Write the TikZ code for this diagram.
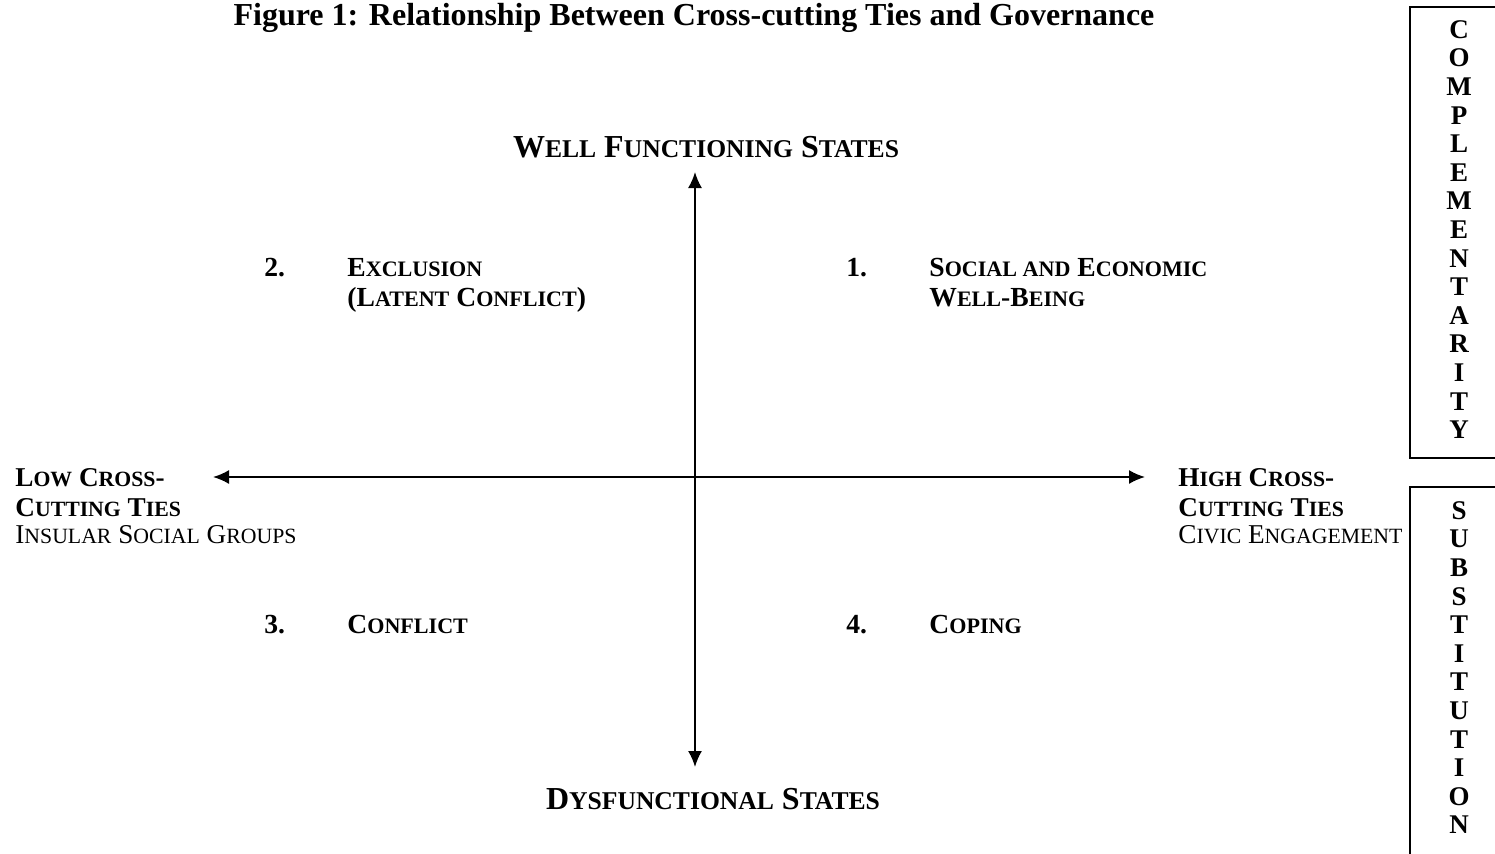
\documentclass[tikz,border=0pt]{standalone}
\usepackage{fontspec}
\setmainfont{Liberation Serif}
\usepackage{graphicx}
\usepackage{tikz}
\usetikzlibrary{arrows.meta}
\newcommand{\sml}[1]{\scalebox{0.8}{#1}}

\begin{document}
\begin{tikzpicture}[x=0.5pt, y=-0.5pt]
  \tikzstyle{myline}=[line width=0.9pt, line cap=round, line join=round];
  \tikzstyle{myconn}=[myline, <->, >={Latex[length=8pt, width=7pt]}];
  \tikzstyle{axistext}=[inner sep=0pt, anchor=base,
    font=\fontsize{16}{18}\selectfont\bfseries];
  \tikzstyle{quadtext}=[inner sep=0pt, align=left,
    font=\fontsize{13.8}{15}\selectfont\bfseries];
  \tikzstyle{sidetext}=[inner sep=0pt, align=left, anchor=north west,
    font=\fontsize{13.6}{15}\selectfont];
  \tikzstyle{vertext}=[inner sep=0pt, align=center, anchor=north,
    font=\fontsize{13.5}{14.3}\selectfont\bfseries];
  \useasboundingbox (0, 0) rectangle (1495, 853);
  %
  % title
  \node[inner sep=0pt, anchor=base, font=\fontsize{16}{18}\selectfont\bfseries]
  (title) at (694, 25) {Figure 1: Relationship Between Cross-cutting Ties and Governance};
  %
  % axes
  \coordinate (ntip) at (695, 172);
  \coordinate (stip) at (695, 767);
  \coordinate (wtip) at (213, 477);
  \coordinate (etip) at (1145, 477);
  \draw[myconn] (stip) -- (ntip);
  \draw[myconn] (wtip) -- (etip);
  %
  \node[axistext] (well) at (706, 157) {W\sml{ELL} F\sml{UNCTIONING} S\sml{TATES}};
  \node[axistext] (dys) at (713, 809) {D\sml{YSFUNCTIONAL} S\sml{TATES}};
  %
  \node[sidetext] (low) at (15, 468) {
    \textbf{L\sml{OW} C\sml{ROSS}-}\\\textbf{C\sml{UTTING} T\sml{IES}}\\[-1.5pt]
    I\sml{NSULAR} S\sml{OCIAL} G\sml{ROUPS}};
  \node[sidetext] (high) at (1178, 468) {
    \textbf{H\sml{IGH} C\sml{ROSS}-}\\\textbf{C\sml{UTTING} T\sml{IES}}\\[-1.5pt]
    C\sml{IVIC} E\sml{NGAGEMENT}};
  %
  % quadrants
  \node[quadtext, anchor=base west] (n2) at (264, 276) {2.};
  \node[quadtext, anchor=north west] (excl) at (347, 258) {
    E\sml{XCLUSION}\\(L\sml{ATENT} C\sml{ONFLICT})};
  %
  \node[quadtext, anchor=base west] (n1) at (846, 276) {1.};
  \node[quadtext, anchor=north west] (soc) at (929, 258) {
    S\sml{OCIAL AND} E\sml{CONOMIC}\\W\sml{ELL}-B\sml{EING}};
  %
  \node[quadtext, anchor=base west] (n3) at (264, 633) {3.};
  \node[quadtext, anchor=base west] (confl) at (347, 633) {C\sml{ONFLICT}};
  %
  \node[quadtext, anchor=base west] (n4) at (846, 633) {4.};
  \node[quadtext, anchor=base west] (cop) at (929, 633) {C\sml{OPING}};
  %
  % side boxes
  \draw[line width=0.8pt] (1410, 7) rectangle (1530, 458);
  \draw[line width=0.8pt] (1410, 487) rectangle (1530, 890);
  \node[vertext] (compl) at (1459, 20) {
    C\\O\\M\\P\\L\\E\\M\\E\\N\\T\\A\\R\\I\\T\\Y};
  \node[vertext] (subst) at (1459, 501) {
    S\\U\\B\\S\\T\\I\\T\\U\\T\\I\\O\\N};
\end{tikzpicture}
\end{document}
